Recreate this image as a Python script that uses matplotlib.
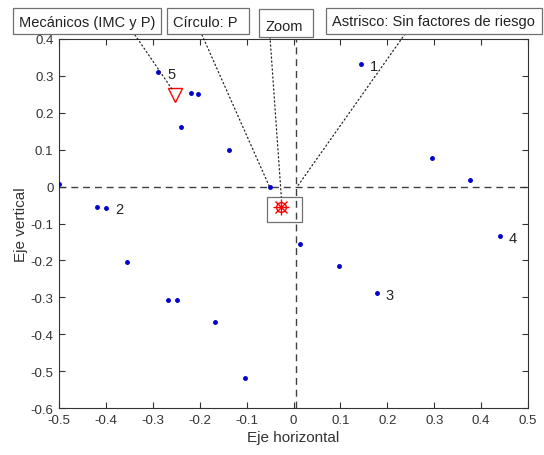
import matplotlib
matplotlib.use("Agg")
import matplotlib.pyplot as plt
from matplotlib.patches import Rectangle, ConnectionPatch

plt.rcParams['font.family'] = ['Liberation Sans', 'DejaVu Sans']
plt.rcParams['axes.unicode_minus'] = False

# ---- data ----
pts_x = [-0.500, -0.288, -0.218, -0.203, -0.239, -0.137, -0.051, 0.143, 0.295, 0.376,
         0.440, -0.419, -0.400, -0.355, -0.267, -0.248, -0.167, -0.103, 0.013, 0.096, 0.177]
pts_y = [0.007, 0.310, 0.254, 0.251, 0.161, 0.099, -0.001, 0.332, 0.077, 0.018,
         -0.134, -0.055, -0.058, -0.205, -0.307, -0.307, -0.367, -0.519, -0.156, -0.215, -0.289]

label_names = ["1", "2", "3", "4", "5"]
label_x = [0.143, -0.400, 0.177, 0.440, -0.288]
label_y = [0.332, -0.058, -0.289, -0.134, 0.310]

tri_x, tri_y = -0.252, 0.248          # Mecánicos (IMC y P)
star_x, star_y = -0.026, -0.056       # Asterisco / círculo (zoom)
zoom_x = [-0.056, 0.019]
zoom_y = [-0.096, -0.028]

xticks = [-0.5, -0.4, -0.3, -0.2, -0.1, 0, 0.1, 0.2, 0.3, 0.4, 0.5]
xtick_labels = ["-0.5", "-0.4", "-0.3", "-0.2", "-0.1", "0", "0.1", "0.2", "0.3", "0.4", "0.5"]
yticks = [-0.6, -0.5, -0.4, -0.3, -0.2, -0.1, 0, 0.1, 0.2, 0.3, 0.4]
ytick_labels = ["-0.6", "-0.5", "-0.4", "-0.3", "-0.2", "-0.1", "0", "0.1", "0.2", "0.3", "0.4"]

box_texts = ["Mecánicos (IMC y P)", "Círculo: P", "Zoom", "Astrisco: Sin factores de riesgo"]
# ---- layout (figure pixels from top-left) ----
W, H = 544, 456
box_ext = [(13, 9, 161, 35), (167, 9, 249, 35), (259, 10, 313, 38), (326, 9, 542, 35)]
text_y = [23, 23, 27, 22]
line_start = [(135, 36), (202, 36), (270, 38), (405, 35)]
line_end = [(-0.259, 0.264), (-0.051, -0.001), (-0.026, -0.028), (0.008, 0.0)]

fig = plt.figure(figsize=(W / 100, H / 100), dpi=100)
ax = fig.add_axes([59 / W, (H - 409) / H, (528 - 59) / W, (409 - 40) / H])

axc = '#333333'
ax.axhline(0, color='#404040', lw=1.0, ls=(0, (5, 3.5)), zorder=1)
ax.axvline(0.006, color='#404040', lw=1.0, ls=(0, (5, 3.5)), zorder=1)

ax.plot(pts_x, pts_y, ls='none', marker='.', color='#0000cc', ms=5, zorder=3)
for n, lx, ly in zip(label_names, label_x, label_y):
    ax.text(lx + 0.019, ly - 0.004, n, fontsize=10.5, color='#222222', ha='left', va='center')

ax.plot([tri_x], [tri_y], ls='none', marker='v', ms=10, mfc='none', mec='red', mew=1.0, zorder=4)
ax.plot([star_x], [star_y], ls='none', marker='o', ms=7, mfc='none', mec='red', mew=1.0, zorder=4)
ax.plot([star_x], [star_y], ls='none', marker='+', ms=11, mec='red', mew=1.0, zorder=4)
ax.plot([star_x], [star_y], ls='none', marker='x', ms=8, mec='red', mew=1.0, zorder=4)
ax.add_patch(Rectangle((zoom_x[0], zoom_y[0]), zoom_x[1] - zoom_x[0], zoom_y[1] - zoom_y[0],
                       fill=False, ec='#707070', lw=0.9, zorder=2))

ax.set_xlim(-0.5, 0.5)
ax.set_ylim(-0.6, 0.4)
ax.set_xticks(xticks)
ax.set_xticklabels(xtick_labels)
ax.set_yticks(yticks)
ax.set_yticklabels(ytick_labels)
ax.tick_params(direction='in', top=True, right=True, length=4, width=0.8,
               colors=axc, labelsize=9.5, pad=4)
for s in ax.spines.values():
    s.set_color(axc)
    s.set_linewidth(0.8)
ax.set_xlabel("Eje horizontal", fontsize=11, color=axc, labelpad=3)
ax.set_ylabel("Eje vertical", fontsize=11, color=axc, labelpad=2)

for (x0, y0, x1, y1), t, ty in zip(box_ext, box_texts, text_y):
    fig.add_artist(Rectangle((x0 / W, 1 - y1 / H), (x1 - x0) / W, (y1 - y0) / H,
                             transform=fig.transFigure, fill=True, fc='white',
                             ec='#707070', lw=0.9, zorder=5))
    fig.text((x0 + 6) / W, 1 - ty / H, t, fontsize=10.5, color='#222222',
             ha='left', va='center', zorder=6)

for (sx, sy), (ex, ey) in zip(line_start, line_end):
    cp = ConnectionPatch(xyA=(sx / W, 1 - sy / H), coordsA='figure fraction',
                         xyB=(ex, ey), coordsB='data', axesB=ax,
                         color='#222222', lw=0.9, ls=(0, (1, 2.2)), zorder=4)
    fig.add_artist(cp)

fig.savefig('out.png', dpi=100)
